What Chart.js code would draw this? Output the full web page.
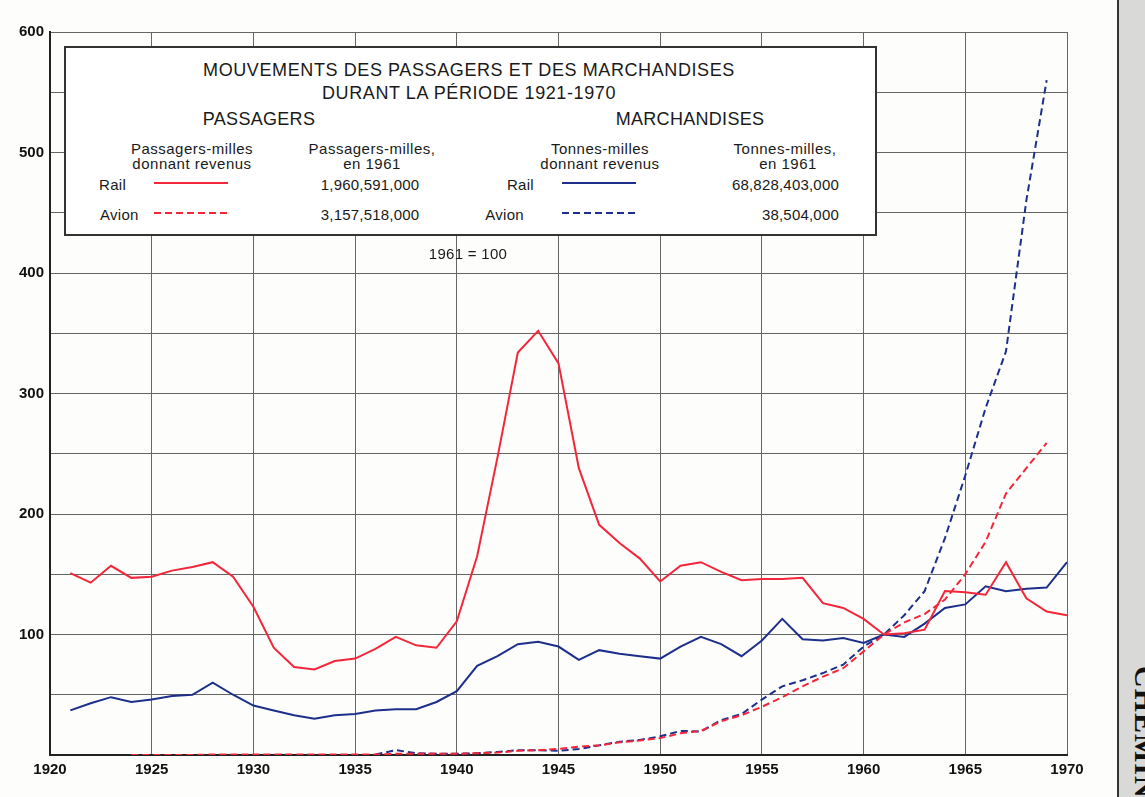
<!DOCTYPE html>
<html lang="fr">
<head>
<meta charset="utf-8">
<script src="https://cdn.jsdelivr.net/npm/chart.js@4/dist/chart.umd.min.js"></script>
<style>
  body { margin: 0; background: #fdfdfc; }
  #wrap { position: relative; width: 1145px; height: 797px; overflow: hidden; font-family: "Liberation Sans", Arial, sans-serif; color: #1a1a1a; }
  #c { position: absolute; left: 0; top: 0; }
  .t { position: absolute; white-space: nowrap; transform: translate(-50%, -50%); text-align: center; }
  .l { position: absolute; white-space: nowrap; transform: translateY(-50%); }
  .r { position: absolute; white-space: nowrap; transform: translate(-100%, -50%); }
  #box { position: absolute; left: 64px; top: 46px; width: 809px; height: 186px; border: 2px solid #333; background: #fff; }
  #strip { position: absolute; left: 1117px; top: 0; width: 40px; height: 797px; background: #d9d9d7; border-left: 2px solid #333; }
  #side { position: absolute; left: 1128px; top: 666px; writing-mode: vertical-rl; font-family: "Liberation Serif", serif; font-weight: bold; font-size: 30px; letter-spacing: 1px; color: #111; }
</style>
</head>
<body>
<div id="wrap">
  <canvas id="c" width="1145" height="797"></canvas>
  <div id="strip"></div>
  <div id="side">CHEMINS</div>
  <div id="box"></div>
  <div id="legend"></div>
  <div class="t" style="left:468px; top:253px; font-size:15px; letter-spacing:0.3px;">1961 = 100</div>
</div>
<script>
// Années (axe des x)
const years = [1921, 1922, 1923, 1924, 1925, 1926, 1927, 1928, 1929, 1930,
               1931, 1932, 1933, 1934, 1935, 1936, 1937, 1938, 1939, 1940,
               1941, 1942, 1943, 1944, 1945, 1946, 1947, 1948, 1949, 1950,
               1951, 1952, 1953, 1954, 1955, 1956, 1957, 1958, 1959, 1960,
               1961, 1962, 1963, 1964, 1965, 1966, 1967, 1968, 1969, 1970];

// Passagers - rail (1961 = 100)
const passRail = [151, 143, 157, 147, 148, 153, 156, 160, 148, 123,
                  89, 73, 71, 78, 80, 88, 98, 91, 89, 111,
                  165, 247, 334, 352, 325, 238, 191, 176, 163, 144,
                  157, 160, 152, 145, 146, 146, 147, 126, 122, 113,
                  100, 101, 104, 136, 135, 133, 160, 130, 119, 116];

// Passagers - avion
const passAvion = [null, null, null, 0, 0, 0, 0, 0.5, 0.5, 0.5,
                   0.5, 0.5, 0.5, 0.5, 0.5, 0.5, 1, 1, 1, 1,
                   1.5, 2, 3.5, 4, 5, 7, 8, 10.5, 12, 14,
                   18, 20, 28, 33, 40, 48, 57, 65, 72, 86,
                   100, 110, 117, 129, 150, 177, 217, 238, 259, null];

// Marchandises - rail
const fretRail = [37, 43, 48, 44, 46, 49, 50, 60, 50, 41,
                  37, 33, 30, 33, 34, 37, 38, 38, 44, 53,
                  74, 82, 92, 94, 90, 79, 87, 84, 82, 80,
                  90, 98, 92, 82, 95, 113, 96, 95, 97, 93,
                  100, 98, 109, 122, 125, 140, 136, 138, 139, 160];

// Marchandises - avion
const fretAvion = [null, null, null, null, null, null, null, null, null, null,
                   null, null, null, null, null, 0.5, 4, 1.5, 1, 1,
                   1.5, 2.5, 4, 4, 3.5, 5, 8, 11, 12.5, 15.5,
                   20, 19.5, 29, 34, 46, 57, 62, 68, 75, 90,
                   100, 116, 136, 180, 232, 288, 335, 460, 560, null];

const yTicks = [100, 200, 300, 400, 500, 600];

const RED = '#f3263a';
const BLUE = '#1d2f8a';

function pts(arr) {
    return years.map((y, i) => ({ x: y, y: arr[i] }));
}

// Légende (texte HTML par-dessus le graphique)
const legendItems = [
    ['t', 469, 70, 18, 0.6, 'MOUVEMENTS DES PASSAGERS ET DES MARCHANDISES'],
    ['t', 469, 93, 18, 0.6, 'DURANT LA PÉRIODE 1921-1970'],
    ['t', 259, 119, 18, 0.3, 'PASSAGERS'],
    ['t', 690, 119, 18, 0.3, 'MARCHANDISES'],
    ['t', 192, 148, 15, 0.5, 'Passagers-milles'],
    ['t', 192, 163, 15, 0.5, 'donnant revenus'],
    ['t', 372, 148, 15, 0.5, 'Passagers-milles,'],
    ['t', 372, 163, 15, 0.5, 'en 1961'],
    ['t', 600, 148, 15, 0.5, 'Tonnes-milles'],
    ['t', 600, 163, 15, 0.5, 'donnant revenus'],
    ['t', 785, 148, 15, 0.5, 'Tonnes-milles,'],
    ['t', 788, 163, 15, 0.5, 'en 1961'],
    ['l', 99, 184, 15, 0.3, 'Rail'],
    ['l', 100, 214, 15, 0.3, 'Avion'],
    ['t', 370, 184, 15, 0.2, '1,960,591,000'],
    ['t', 370, 214, 15, 0.2, '3,157,518,000'],
    ['r', 534, 184, 15, 0.3, 'Rail'],
    ['r', 524, 214, 15, 0.3, 'Avion'],
    ['r', 839, 184, 15, 0.2, '68,828,403,000'],
    ['r', 839, 214, 15, 0.2, '38,504,000']
];
const leg = document.getElementById('legend');
legendItems.forEach(it => {
    const d = document.createElement('div');
    d.className = it[0];
    d.style.left = it[1] + 'px';
    d.style.top = it[2] + 'px';
    d.style.fontSize = it[3] + 'px';
    d.style.letterSpacing = it[4] + 'px';
    d.textContent = it[5];
    leg.appendChild(d);
});
// Échantillons de lignes
const samples = [[154, 183, RED, ''], [154, 213, RED, '7 4'], [562, 183, BLUE, ''], [562, 213, BLUE, '7 4']];
samples.forEach(s => {
    const svg = document.createElementNS('http://www.w3.org/2000/svg', 'svg');
    svg.setAttribute('width', '76');
    svg.setAttribute('height', '4');
    svg.style.position = 'absolute';
    svg.style.left = s[0] + 'px';
    svg.style.top = (s[1] - 2) + 'px';
    svg.innerHTML = `<line x1="0" y1="2" x2="74" y2="2" stroke="${s[2]}" stroke-width="2" ${s[3] ? 'stroke-dasharray="' + s[3] + '"' : ''}/>`;
    leg.appendChild(svg);
});

const ctx = document.getElementById('c').getContext('2d');
new Chart(ctx, {
    type: 'line',
    data: {
        datasets: [
            { data: pts(passAvion), borderColor: RED, borderDash: [7, 4], borderWidth: 2, pointRadius: 0, tension: 0 },
            { data: pts(fretAvion), borderColor: BLUE, borderDash: [7, 4], borderWidth: 2, pointRadius: 0, tension: 0 },
            { data: pts(passRail), borderColor: RED, borderWidth: 2, pointRadius: 0, tension: 0 },
            { data: pts(fretRail), borderColor: BLUE, borderWidth: 2, pointRadius: 0, tension: 0 }
        ]
    },
    options: {
        responsive: false,
        animation: false,
        layout: { padding: { top: 32, right: 78, left: 0, bottom: 0 } },
        plugins: { legend: { display: false }, tooltip: { enabled: false } },
        scales: {
            x: {
                type: 'linear',
                min: 1920, max: 1970,
                ticks: { stepSize: 5, color: '#111', font: { family: 'Liberation Sans', size: 15, weight: 'bold' }, padding: 6, callback: v => String(v), maxRotation: 0 },
                grid: { color: '#666', lineWidth: 1, drawTicks: false },
                border: { color: '#222', width: 2 },
                afterFit: s => { s.height = 42; }
            },
            y: {
                min: 0, max: 600,
                ticks: { stepSize: 50, color: '#111', font: { family: 'Liberation Sans', size: 15, weight: 'bold' }, padding: 6,
                         callback: v => yTicks.includes(v) ? String(v) : '' },
                grid: { color: '#666', lineWidth: 1, drawTicks: false },
                border: { color: '#222', width: 2 },
                afterFit: s => { s.width = 50; }
            }
        }
    }
});
</script>
</body>
</html>
